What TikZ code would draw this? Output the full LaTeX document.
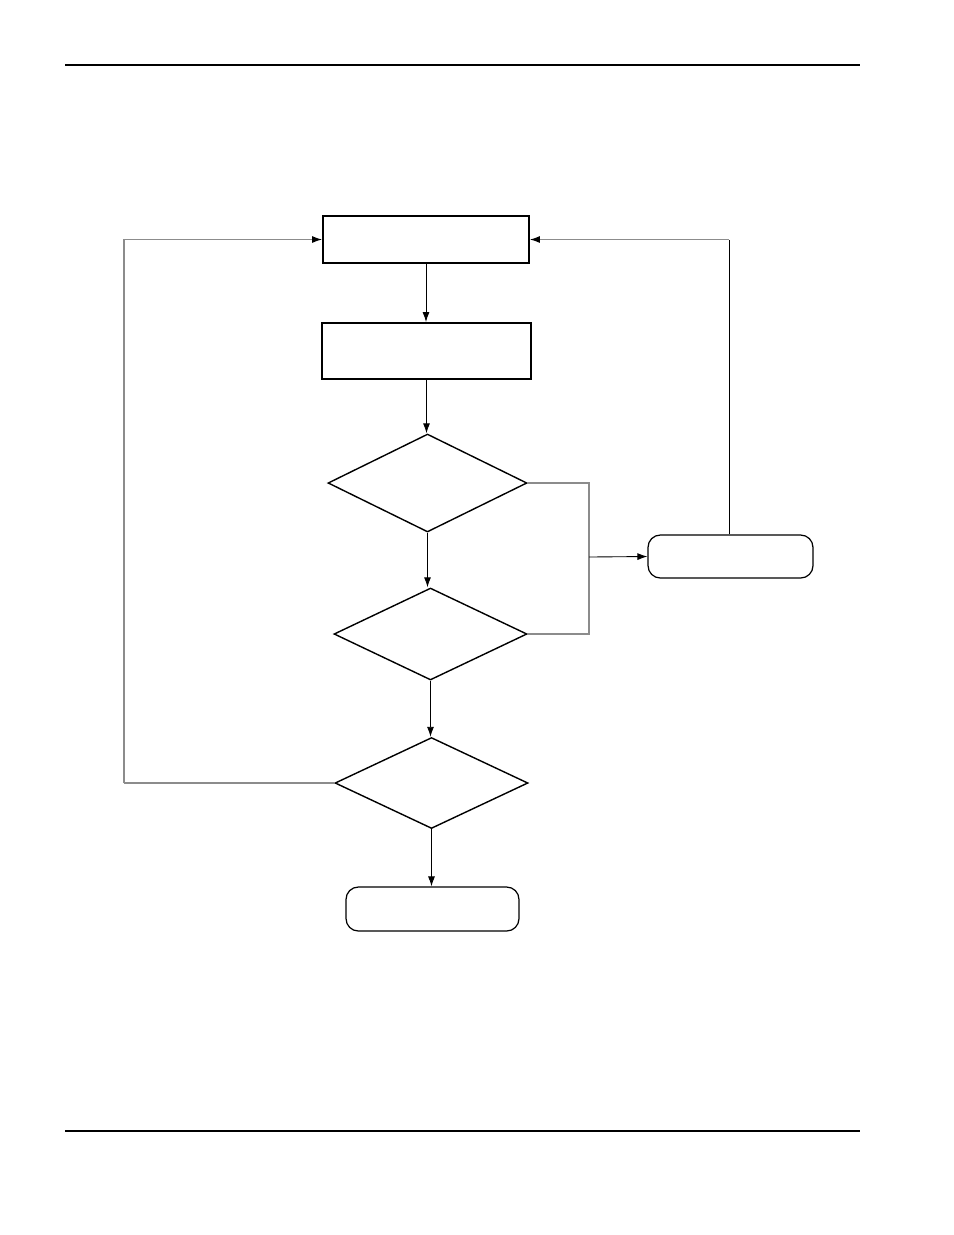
\documentclass[tikz,border=0pt]{standalone}
\usetikzlibrary{arrows.meta,shapes.geometric}

\tikzset{
  procbox/.style={draw, line width=1.1pt, inner sep=0pt},
  decision/.style={draw, diamond, line width=0.8pt, inner sep=0pt},
  terminal/.style={draw, rounded corners=7pt, line width=0.7pt, inner sep=0pt},
  arr/.style={-{Latex[length=2mm,width=1.4mm,color=black]}, line width=0.5pt},
  loopline/.style={line width=0.6pt, draw=black!45},
}

\begin{document}
\begin{tikzpicture}[x=0.02cm, y=-0.02cm]
    \useasboundingbox (0,0) rectangle (954,1235);
    \draw[line width=0.7pt] (65,65) -- (860,65);
    \draw[line width=1.2pt] (65,1131) -- (860,1131);

    \node[procbox, minimum width=4.12cm, minimum height=0.94cm] (read) at (426,239.5) {};
    \node[procbox, minimum width=4.18cm, minimum height=1.12cm] (check) at (426.5,351) {};
    \node[decision, minimum width=3.98cm, minimum height=1.96cm] (testA) at (427.5,483) {};
    \node[decision, minimum width=3.86cm, minimum height=1.84cm] (testB) at (430.5,634) {};
    \node[decision, minimum width=3.86cm, minimum height=1.82cm] (testC) at (431.5,783) {};
    \node[terminal, minimum width=3.30cm, minimum height=0.86cm] (fail) at (730.5,556.5) {};
    \node[terminal, minimum width=3.46cm, minimum height=0.88cm] (done) at (432.5,909) {};

    \coordinate (join) at (589,557);
    \coordinate (rcorner) at (729,239.5);
    \coordinate (lcorner) at (124,783);

    \draw[arr] (read.south) -- (read.south |- check.north);
    \draw[arr] (check.south) -- (check.south |- testA.north);
    \draw[arr] (testA.south) -- (testA.south |- testB.north);
    \draw[arr] (testB.south) -- (testB.south |- testC.north);
    \draw[arr] (testC.south) -- (testC.south |- done.north);

    \draw[loopline] (testA.east) -| (join);
    \draw[loopline] (testB.east) -| (join);
    \draw[arr] (join) -- (fail.west);

    \draw[line width=0.5pt] (fail.north -| rcorner) -- (rcorner);
    \draw[arr, loopline] (rcorner) -- (read.east);

    \draw[loopline] (testC.west) -- (lcorner);
    \draw[arr, loopline] (lcorner) |- (read.west);
\end{tikzpicture}
\end{document}
